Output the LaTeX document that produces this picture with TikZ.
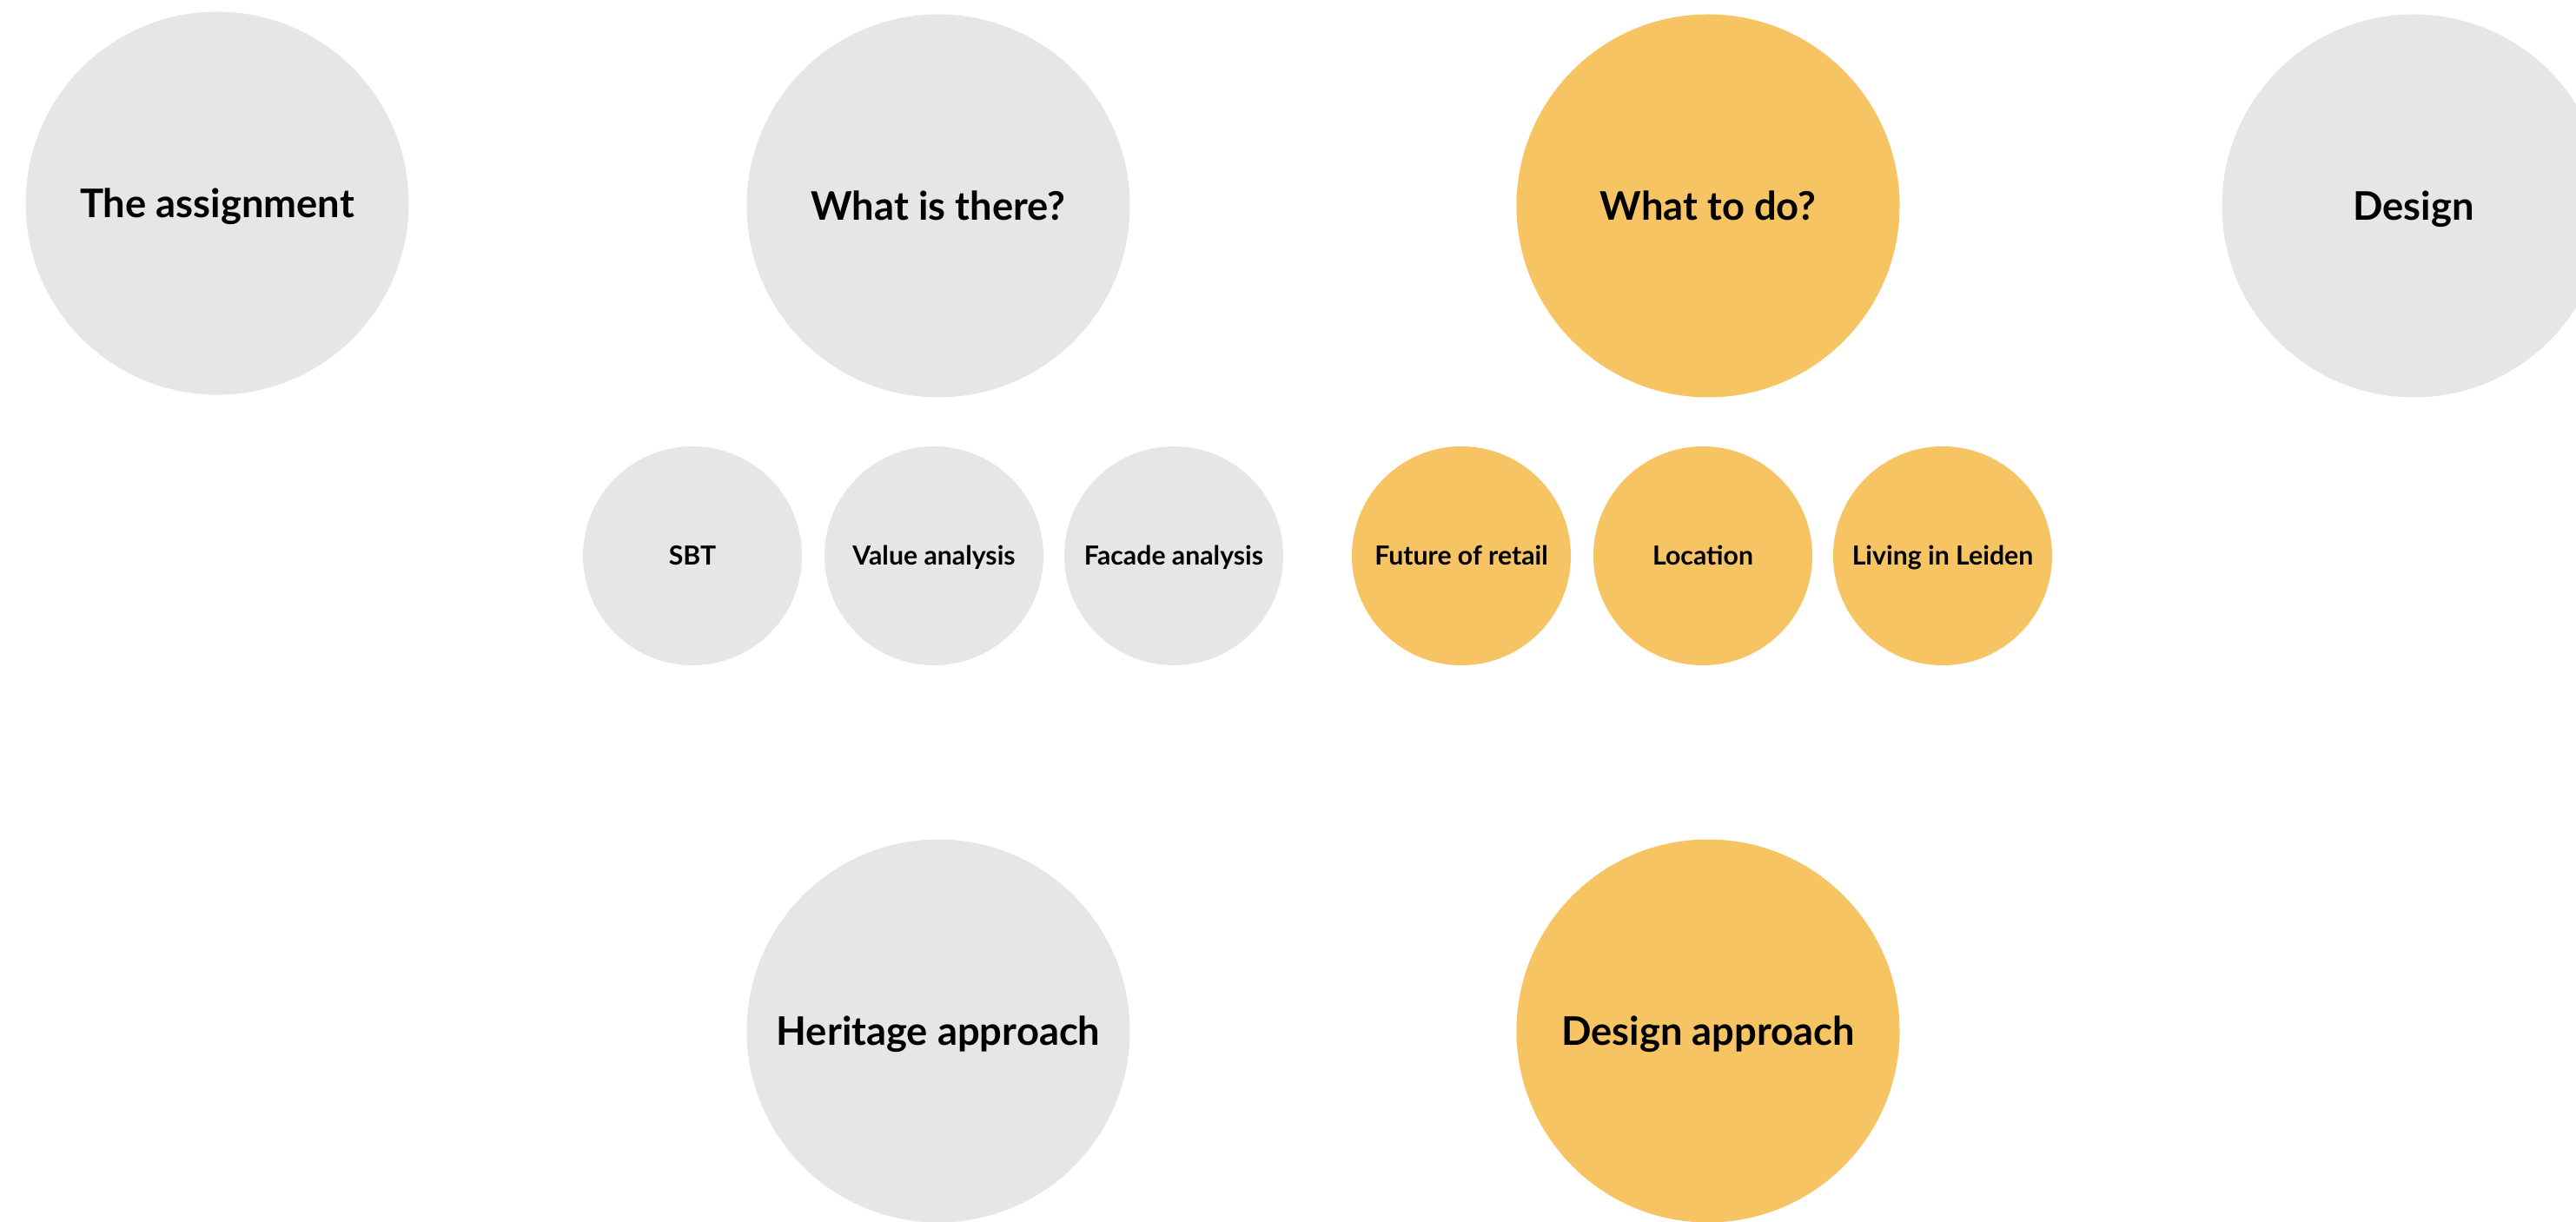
\documentclass[tikz,border=0pt]{standalone}
\usepackage{fontspec}
\setmainfont{Lato}
\usepackage{tikz}
\definecolor{pgrey}{HTML}{E6E6E8}
\definecolor{porange}{HTML}{F7C463}

\begin{document}
\begin{tikzpicture}[
    big/.style={circle, fill=#1, minimum size=4.41cm, inner sep=0pt, text height=9.3pt, text depth=0pt, font=\fontsize{12.9}{15}\selectfont\bfseries},
    small/.style={circle, fill=#1, minimum size=2.52cm, inner sep=0pt, text height=6.2pt, text depth=0pt, font=\fontsize{8.6}{10}\selectfont\bfseries}]
    \useasboundingbox (0,0) rectangle (29.65,-14.07);
    \node (Assign) at (2.50,-2.34) [big=pgrey] {The assignment};
    \node (There) at (10.80,-2.37) [big=pgrey] {What is there?};
    \node (ToDo) at (19.66,-2.37) [big=porange] {What to do?};
    \node (Design) at (27.78,-2.37) [big=pgrey] {Design};
    \node (SBT) at (7.97,-6.40) [small=pgrey] {SBT};
    \node (Value) at (10.75,-6.40) [small=pgrey] {Value analysis};
    \node (Facade) at (13.51,-6.40) [small=pgrey] {Facade analysis};
    \node (Retail) at (16.82,-6.40) [small=porange] {Future of retail};
    \node (Loc) at (19.60,-6.40) [small=porange] {Location};
    \node (Leiden) at (22.36,-6.40) [small=porange] {Living in Leiden};
    \node (Heri) at (10.80,-11.87) [big=pgrey] {Heritage approach};
    \node (DApp) at (19.66,-11.87) [big=porange] {Design approach};
  \end{tikzpicture}
\end{document}
